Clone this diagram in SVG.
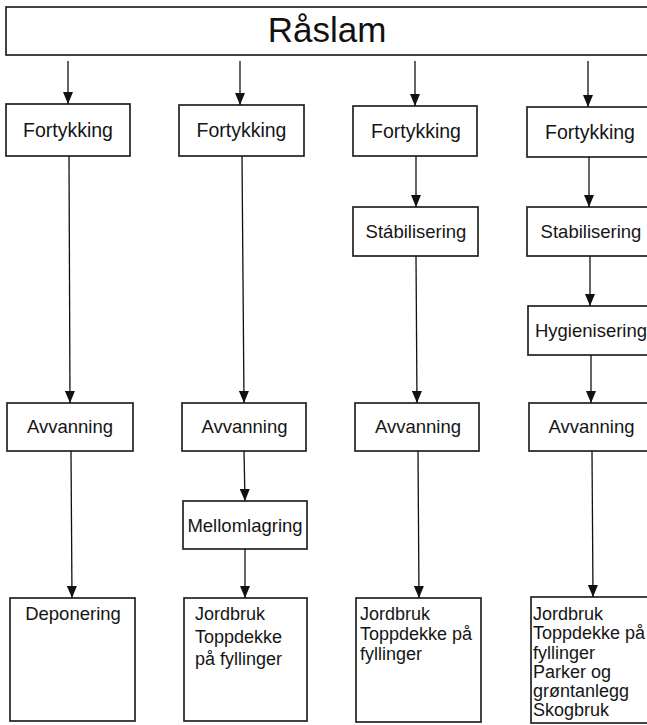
<svg xmlns="http://www.w3.org/2000/svg" width="647" height="725" viewBox="0 0 647 725">
<defs>
<marker id="ah" viewBox="0 0 12 10" refX="12" refY="5" markerWidth="12" markerHeight="10" markerUnits="userSpaceOnUse" orient="auto">
<path d="M0,0 L12,5 L0,10 z" fill="#111"/>
</marker>
<style>
.box{fill:#fff;stroke:#222;stroke-width:1.7}
.lbl{font-family:"Liberation Sans",Arial,sans-serif;font-size:18.5px;fill:#151515;text-anchor:middle}
.fk{font-size:19.5px}
.lt{font-family:"Liberation Sans",Arial,sans-serif;font-size:18px;fill:#151515}
.title{font-family:"Liberation Sans",Arial,sans-serif;font-size:35px;fill:#111;text-anchor:middle}
.con line{stroke:#111;stroke-width:1.3;marker-end:url(#ah)}
</style>
</defs>
<rect width="647" height="725" fill="#fff"/>
<g id="raslam"><rect class="box" x="6" y="7" width="660" height="48"/><text class="title" x="327" y="42">Råslam</text></g>
<g id="f1"><rect class="box" x="6" y="104" width="124" height="52"/><text class="lbl fk" x="68" y="137">Fortykking</text></g>
<g id="f2"><rect class="box" x="179" y="105" width="125" height="51"/><text class="lbl fk" x="241.5" y="137">Fortykking</text></g>
<g id="f3"><rect class="box" x="353" y="106" width="124" height="50"/><text class="lbl fk" x="416" y="138">Fortykking</text></g>
<g id="f4"><rect class="box" x="527" y="107" width="140" height="50"/><text class="lbl fk" x="590" y="139">Fortykking</text></g>
<g id="s3"><rect class="box" x="353" y="207" width="125" height="49"/><text class="lbl" x="416" y="238">Stábilisering</text></g>
<g id="s4"><rect class="box" x="527" y="207" width="140" height="49"/><text class="lbl" x="591" y="238">Stabilisering</text></g>
<g id="h4"><rect class="box" x="528" y="306" width="140" height="49"/><text class="lbl" x="591" y="337">Hygienisering</text></g>
<g id="a1"><rect class="box" x="7" y="403" width="126" height="48"/><text class="lbl" x="70" y="433">Avvanning</text></g>
<g id="a2"><rect class="box" x="182" y="403" width="124" height="48"/><text class="lbl" x="244.5" y="433">Avvanning</text></g>
<g id="a3"><rect class="box" x="355" y="403" width="124" height="48"/><text class="lbl" x="418" y="433">Avvanning</text></g>
<g id="a4"><rect class="box" x="529" y="403" width="140" height="48"/><text class="lbl" x="591.5" y="433">Avvanning</text></g>
<g id="m2"><rect class="box" x="183" y="501" width="124" height="48"/><text class="lbl" x="245" y="532">Mellomlagring</text></g>
<g id="d1"><rect class="box" x="10" y="598" width="125" height="123"/><text class="lbl" x="73" y="620">Deponering</text></g>
<g id="b2"><rect class="box" x="184" y="598" width="123" height="123"/><text class="lt" x="195"><tspan x="195" y="620">Jordbruk</tspan><tspan x="195" y="643">Toppdekke</tspan><tspan x="195" y="665">på fyllinger</tspan></text></g>
<g id="b3"><rect class="box" x="356" y="598" width="125" height="124"/><text class="lt" x="360"><tspan x="360" y="620">Jordbruk</tspan><tspan x="360" y="640">Toppdekke på</tspan><tspan x="360" y="660">fyllinger</tspan></text></g>
<g id="b4"><rect class="box" x="531" y="597" width="140" height="126"/><text class="lt" x="533"><tspan x="533" y="620">Jordbruk</tspan><tspan x="533" y="639">Toppdekke på</tspan><tspan x="533" y="659">fyllinger</tspan><tspan x="533" y="678">Parker og</tspan><tspan x="533" y="697">grøntanlegg</tspan><tspan x="533" y="716">Skogbruk</tspan></text></g>
<g id="connectors" class="con">
<line x1="68" y1="61" x2="68" y2="104"/>
<line x1="240" y1="61" x2="240" y2="105"/>
<line x1="415" y1="61" x2="415" y2="106"/>
<line x1="588" y1="61" x2="588" y2="107"/>
<line x1="69" y1="156" x2="70" y2="403"/>
<line x1="71" y1="451" x2="72" y2="598"/>
<line x1="242" y1="156" x2="244" y2="403"/>
<line x1="244" y1="451" x2="245" y2="501"/>
<line x1="245" y1="549" x2="245" y2="598"/>
<line x1="416" y1="156" x2="416" y2="207"/>
<line x1="416" y1="256" x2="417" y2="403"/>
<line x1="418" y1="451" x2="419" y2="598"/>
<line x1="589" y1="157" x2="589" y2="207"/>
<line x1="590" y1="256" x2="590" y2="306"/>
<line x1="591" y1="355" x2="591" y2="403"/>
<line x1="592" y1="451" x2="593" y2="597"/>
</g>
</svg>
